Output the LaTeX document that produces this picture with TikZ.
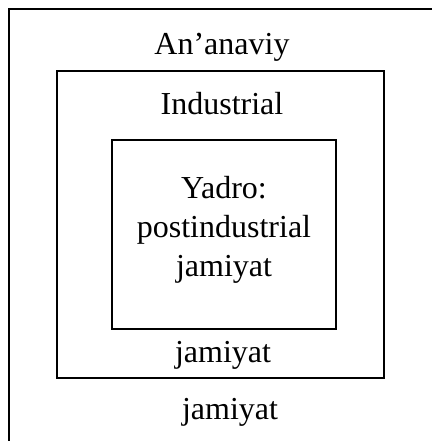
\documentclass[tikz,border=0pt]{standalone}
\usepackage{fontspec}
\setmainfont{Liberation Serif}
\begin{document}
\begin{tikzpicture}[x=1pt,y=-1pt,
  box/.style={draw=black, line width=2.2pt, rectangle, inner sep=0pt},
  lbl/.style={anchor=base, inner sep=0pt, font=\fontsize{32}{38}\selectfont}]
\useasboundingbox (0,0) rectangle (431,441);
\fill[white] (0,0) rectangle (431,441);
% outer box (extends beyond the visible area)
\draw[line width=2pt] (9,460) -- (9,9) -- (460,9);
\node[box, minimum width=327pt, minimum height=307pt] (middle) at (220.5,224.5) {};
\node[box, minimum width=224pt, minimum height=189pt] (inner) at (224,234.5) {};
\node[lbl] (t1) at (222,55) {An’anaviy};
\node[lbl] (t2) at (222,114) {Industrial};
\node[lbl] (t3) at (224,198) {Yadro:};
\node[lbl] (t4) at (224,237) {postindustrial};
\node[lbl] (t5) at (224,276) {jamiyat};
\node[lbl] (t6) at (223,362) {jamiyat};
\node[lbl] (t7) at (230,419) {jamiyat};
\end{tikzpicture}
\end{document}
